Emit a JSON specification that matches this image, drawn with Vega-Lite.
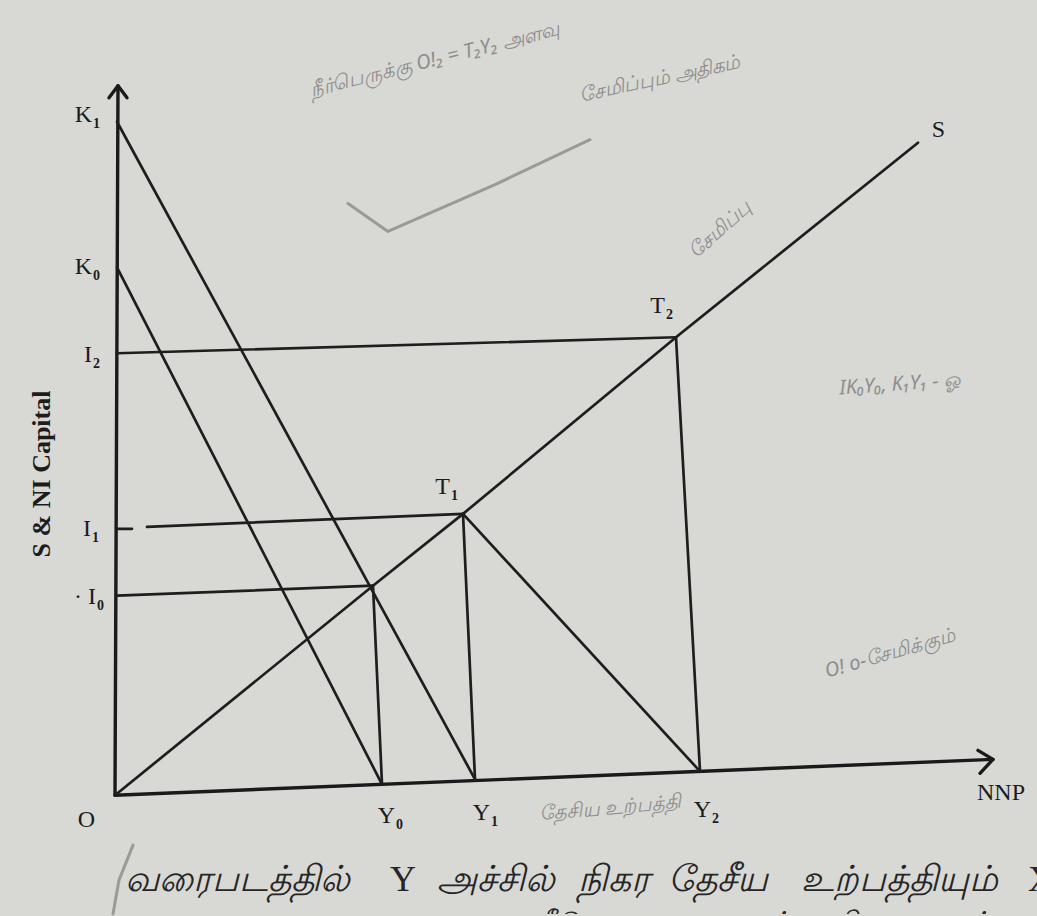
{
  "$schema": "https://vega.github.io/schema/vega-lite/v6.json",
  "width": 1037,
  "height": 916,
  "autosize": {"type": "fit", "contains": "padding"},
  "padding": 0,
  "background": "#d8d8d5",
  "view": {"stroke": null},
  "datasets": {
    "axes": [
      {"seg": "yaxis", "o": 1, "x": 0, "y": 0},
      {"seg": "yaxis", "o": 2, "x": 3, "y": 711},
      {"seg": "yarrow", "o": 1, "x": -6, "y": 699},
      {"seg": "yarrow", "o": 2, "x": 3, "y": 711},
      {"seg": "yarrow", "o": 3, "x": 12, "y": 699},
      {"seg": "xaxis", "o": 1, "x": 0, "y": 0},
      {"seg": "xaxis", "o": 2, "x": 878, "y": 36},
      {"seg": "xarrow", "o": 1, "x": 863, "y": 45},
      {"seg": "xarrow", "o": 2, "x": 878, "y": 36},
      {"seg": "xarrow", "o": 3, "x": 865, "y": 22}
    ],
    "lines": [
      {"seg": "K1Y1", "o": 1, "x": 2, "y": 675},
      {"seg": "K1Y1", "o": 2, "x": 360, "y": 16},
      {"seg": "K0Y0", "o": 1, "x": 2, "y": 529},
      {"seg": "K0Y0", "o": 2, "x": 267, "y": 11},
      {"seg": "S", "o": 1, "x": 0, "y": 0},
      {"seg": "S", "o": 2, "x": 258, "y": 210},
      {"seg": "S", "o": 3, "x": 348, "y": 282},
      {"seg": "S", "o": 4, "x": 561, "y": 459},
      {"seg": "S", "o": 5, "x": 803, "y": 654},
      {"seg": "I2T2", "o": 1, "x": 2, "y": 443},
      {"seg": "I2T2", "o": 2, "x": 561, "y": 459},
      {"seg": "T2Y2", "o": 1, "x": 561, "y": 459},
      {"seg": "T2Y2", "o": 2, "x": 585, "y": 24},
      {"seg": "I1tick", "o": 1, "x": 3, "y": 267},
      {"seg": "I1tick", "o": 2, "x": 17, "y": 267},
      {"seg": "I1T1", "o": 1, "x": 32, "y": 269},
      {"seg": "I1T1", "o": 2, "x": 348, "y": 282},
      {"seg": "T1Y1", "o": 1, "x": 348, "y": 282},
      {"seg": "T1Y1", "o": 2, "x": 360, "y": 16},
      {"seg": "T1Y2", "o": 1, "x": 348, "y": 282},
      {"seg": "T1Y2", "o": 2, "x": 585, "y": 24},
      {"seg": "I0T0", "o": 1, "x": 2, "y": 200},
      {"seg": "I0T0", "o": 2, "x": 258, "y": 210},
      {"seg": "T0Y0", "o": 1, "x": 258, "y": 210},
      {"seg": "T0Y0", "o": 2, "x": 267, "y": 11}
    ],
    "pencil": [
      {"seg": "check", "o": 1, "x": 233, "y": 593},
      {"seg": "check", "o": 2, "x": 273, "y": 565},
      {"seg": "check", "o": 3, "x": 380, "y": 612},
      {"seg": "check", "o": 4, "x": 475, "y": 657},
      {"seg": "paren", "o": 1, "x": 18, "y": -50},
      {"seg": "paren", "o": 2, "x": 4, "y": -85},
      {"seg": "paren", "o": 3, "x": -2, "y": -119}
    ],
    "labels": [
      {"main": "K", "sub": "1", "x": -23, "y": 682},
      {"main": "K", "sub": "0", "x": -23, "y": 529},
      {"main": "I", "sub": "2", "x": -23, "y": 441},
      {"main": "I", "sub": "1", "x": -24, "y": 267},
      {"main": "· I", "sub": "0", "x": -19, "y": 199},
      {"main": "O", "sub": "", "x": -20, "y": -25},
      {"main": "Y", "sub": "0", "x": 280, "y": -21},
      {"main": "Y", "sub": "1", "x": 375, "y": -18},
      {"main": "Y", "sub": "2", "x": 596, "y": -15},
      {"main": "NNP", "sub": "", "x": 910, "y": 2},
      {"main": "S", "sub": "", "x": 830, "y": 667},
      {"main": "T", "sub": "1", "x": 335, "y": 309},
      {"main": "T", "sub": "2", "x": 550, "y": 490}
    ],
    "titles": [
      {"t": "S & NI  Capital", "x": -73, "y": 322}
    ],
    "caption": [
      {"t": "வரைபடத்தில்", "x": 10, "y": -85},
      {"t": "அச்சில்", "x": 322, "y": -85},
      {"t": "நிகர", "x": 463, "y": -85},
      {"t": "தேசீய", "x": 553, "y": -85},
      {"t": "உற்பத்தியும்", "x": 686, "y": -85}
    ],
    "captionLatin": [
      {"t": "Y", "x": 275, "y": -85},
      {"t": "X", "x": 913, "y": -85}
    ],
    "caption2": [
      {"t": "முதலீடு", "x": 360, "y": -129},
      {"t": "அளவுகளும்", "x": 505, "y": -129},
      {"t": "ஆகியவையும்", "x": 680, "y": -129}
    ],
    "notes": [
      {"t": "நீர்பெருக்கு O!₂ = T₂Y₂ அளவு", "x": 320, "y": 737, "a": -14},
      {"t": "சேமிப்பும் அதிகம்", "x": 545, "y": 718, "a": -12},
      {"t": "சேமிப்பு", "x": 605, "y": 567, "a": -42},
      {"t": "IK₀Y₀, K₁Y₁ - ஓ", "x": 785, "y": 412, "a": -4},
      {"t": "O! o-சேமிக்கும்", "x": 775, "y": 142, "a": -16},
      {"t": "தேசிய உற்பத்தி", "x": 495, "y": -13, "a": -5}
    ]
  },
  "layer": [
    {
      "data": {"name": "pencil"},
      "mark": {"type": "line", "color": "#9a9a98", "strokeWidth": 3, "strokeCap": "round", "strokeJoin": "round"},
      "encoding": {
        "x": {"field": "x", "type": "quantitative", "scale": {"domain": [-115, 922], "nice": false, "zero": false}, "axis": null},
        "y": {"field": "y", "type": "quantitative", "scale": {"domain": [-119, 797], "nice": false, "zero": false}, "axis": null},
        "detail": {"field": "seg"},
        "order": {"field": "o"}
      }
    },
    {
      "data": {"name": "notes"},
      "mark": {"type": "text", "color": "#8e8e8c", "font": "Noto Sans", "fontSize": 20, "fontStyle": "italic", "align": "center", "baseline": "middle"},
      "encoding": {
        "x": {"field": "x", "type": "quantitative"},
        "y": {"field": "y", "type": "quantitative"},
        "angle": {"field": "a", "type": "quantitative", "scale": null},
        "text": {"field": "t"}
      }
    },
    {
      "data": {"name": "axes"},
      "mark": {"type": "line", "color": "#1a1a1a", "strokeWidth": 3.4, "strokeCap": "round", "strokeJoin": "round"},
      "encoding": {
        "x": {"field": "x", "type": "quantitative"},
        "y": {"field": "y", "type": "quantitative"},
        "detail": {"field": "seg"},
        "order": {"field": "o"}
      }
    },
    {
      "data": {"name": "lines"},
      "mark": {"type": "line", "color": "#1e1e1e", "strokeWidth": 2.7, "strokeCap": "round", "strokeJoin": "round"},
      "encoding": {
        "x": {"field": "x", "type": "quantitative"},
        "y": {"field": "y", "type": "quantitative"},
        "detail": {"field": "seg"},
        "order": {"field": "o"}
      }
    },
    {
      "data": {"name": "labels"},
      "mark": {"type": "text", "color": "#1c1c1c", "font": "Liberation Serif", "fontSize": 24, "align": "right", "baseline": "middle"},
      "encoding": {
        "x": {"field": "x", "type": "quantitative"},
        "y": {"field": "y", "type": "quantitative"},
        "text": {"field": "main"}
      }
    },
    {
      "data": {"name": "labels"},
      "mark": {"type": "text", "color": "#1c1c1c", "font": "Liberation Serif", "fontSize": 14, "fontWeight": "bold", "align": "left", "baseline": "middle", "dx": 1, "dy": 9},
      "encoding": {
        "x": {"field": "x", "type": "quantitative"},
        "y": {"field": "y", "type": "quantitative"},
        "text": {"field": "sub"}
      }
    },
    {
      "data": {"name": "titles"},
      "mark": {"type": "text", "color": "#1c1c1c", "font": "Liberation Serif", "fontSize": 26, "fontWeight": "bold", "angle": 270, "align": "center", "baseline": "middle"},
      "encoding": {
        "x": {"field": "x", "type": "quantitative"},
        "y": {"field": "y", "type": "quantitative"},
        "text": {"field": "t"}
      }
    },
    {
      "data": {"name": "caption"},
      "mark": {"type": "text", "color": "#262626", "font": "Noto Sans", "fontSize": 36, "fontStyle": "italic", "align": "left", "baseline": "middle", "clip": true},
      "encoding": {
        "x": {"field": "x", "type": "quantitative"},
        "y": {"field": "y", "type": "quantitative"},
        "text": {"field": "t"}
      }
    },
    {
      "data": {"name": "captionLatin"},
      "mark": {"type": "text", "color": "#262626", "font": "Liberation Serif", "fontSize": 36, "align": "left", "baseline": "middle", "clip": true},
      "encoding": {
        "x": {"field": "x", "type": "quantitative"},
        "y": {"field": "y", "type": "quantitative"},
        "text": {"field": "t"}
      }
    },
    {
      "data": {"name": "caption2"},
      "mark": {"type": "text", "color": "#262626", "font": "Noto Sans", "fontSize": 30, "fontStyle": "italic", "align": "left", "baseline": "middle", "clip": true},
      "encoding": {
        "x": {"field": "x", "type": "quantitative"},
        "y": {"field": "y", "type": "quantitative"},
        "text": {"field": "t"}
      }
    }
  ]
}
